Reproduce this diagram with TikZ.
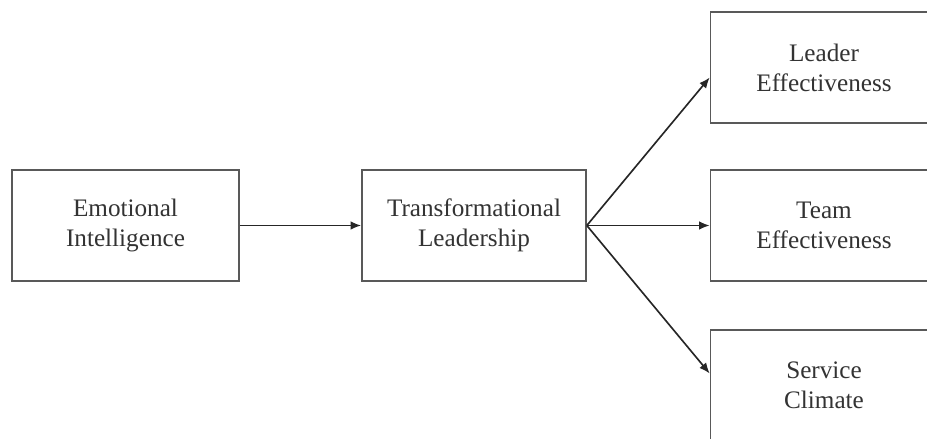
\documentclass[tikz,border=0pt]{standalone}
\usepackage{fontspec}
\setmainfont{Liberation Serif}
\usetikzlibrary{arrows.meta, positioning}
\tikzset{
  construct/.style={rectangle, draw=black!65, line width=1.4pt, fill=white,
                    minimum width=68.1mm, minimum height=33.3mm, align=center,
                    font=\fontsize{21.5}{25.5}\selectfont, text=black!80, inner sep=2pt},
  patharr/.style={draw=black!85, line width=1.4pt, -{Latex[length=3.2mm, width=2.6mm]}},
}

\begin{document}
\begin{tikzpicture}

\clip (0,0) rectangle (27.81,13.17);
\useasboundingbox (0,0) rectangle (27.81,13.17);

% predictor and mediator
\node[construct] (emo)   at (3.765,6.405) {Emotional\\Intelligence};
\node[construct, minimum width=67.2mm] (trans) at (14.22,6.405) {Transformational\\Leadership};

% outcomes
\node[construct] (lead) at (24.72,11.145) {Leader\\Effectiveness};
\node[construct] (team) at (24.72, 6.405) {Team\\Effectiveness};
\node[construct] (serv) at (24.72, 1.605) {Service\\Climate};

\draw[patharr] (emo) -- (trans);
\draw[patharr] (trans.east) -- ([yshift=-3mm]lead.west);
\draw[patharr] (trans.east) -- (team.west);
\draw[patharr] (trans.east) -- ([yshift=3.6mm]serv.west);

\end{tikzpicture}
\end{document}
